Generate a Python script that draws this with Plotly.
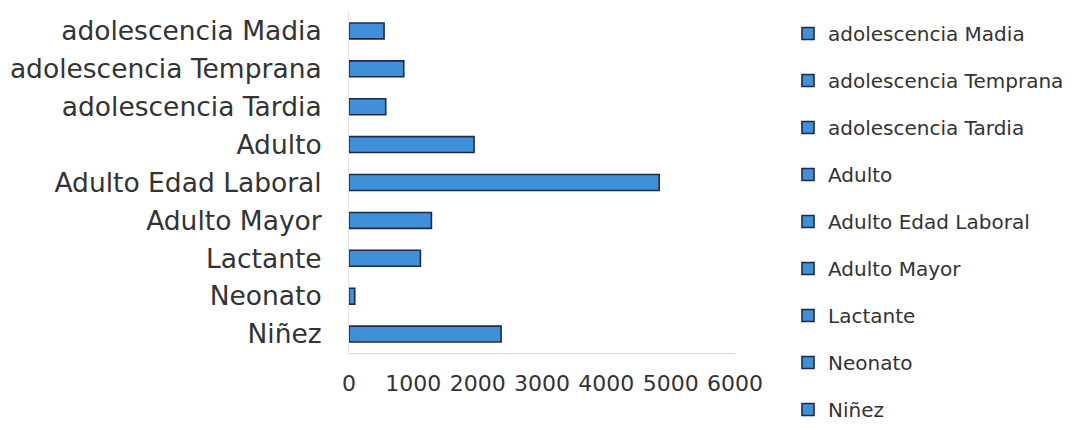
import plotly.graph_objects as go

categories = ["adolescencia Madia", "adolescencia Temprana", "adolescencia Tardia",
              "Adulto", "Adulto Edad Laboral", "Adulto Mayor", "Lactante",
              "Neonato", "Niñez"]
values = [545, 851, 571, 1944, 4821, 1281, 1110, 89, 2364]
x_ticks = [0, 1000, 2000, 3000, 4000, 5000, 6000]

fill = "#3F8FD9"
edge = "#1E2B48"

fig = go.Figure()
for i, (c, v) in enumerate(zip(categories, values)):
    fig.add_trace(go.Bar(
        x=[v], y=[c], orientation="h", name=c, legendgroup=c,
        marker=dict(color=fill, line=dict(color=edge, width=1.6)),
        width=0.42,
    ))

fig.update_layout(
    width=1080, height=430,
    paper_bgcolor="white", plot_bgcolor="white",
    margin=dict(l=341, r=353, t=4, b=85, autoexpand=False),
    barmode="overlay",
    font=dict(family="DejaVu Sans", color="#333333"),
    showlegend=True,
    legend=dict(
        xref="container", yref="container",
        x=780 / 1080, y=1 - 6 / 430, xanchor="left", yanchor="top",
        traceorder="grouped", tracegroupgap=18,
        font=dict(family="DejaVu Sans", size=20, color="#333333"),
        itemwidth=30, maxheight=700,
    ),
)
fig.update_xaxes(
    range=[0, 6000], tickvals=x_ticks, ticktext=[str(t) for t in x_ticks],
    showgrid=False, zeroline=False, automargin=False,
    showline=True, linecolor="#d9d9d9", linewidth=1,
    ticks="outside", ticklen=11, tickcolor="rgba(0,0,0,0)",
    tickfont=dict(family="DejaVu Sans", size=22, color="#333333"),
)
fig.update_yaxes(
    categoryorder="array", categoryarray=categories[::-1],
    range=[-0.5, 8.5],
    showgrid=False, zeroline=False, automargin=False,
    showline=True, linecolor="#e4e4e4", linewidth=1,
    ticks="outside", ticklen=21, tickcolor="rgba(0,0,0,0)",
    tickfont=dict(family="DejaVu Sans", size=26.5, color="#333333"),
)

fig.write_html("out.html")
